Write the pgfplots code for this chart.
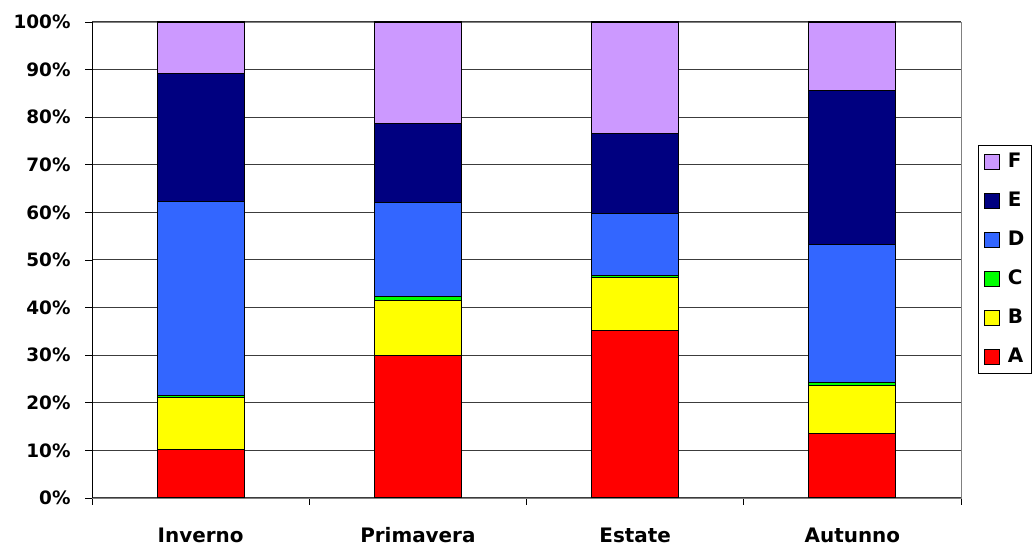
\documentclass[border=0pt]{standalone}
\usepackage{pgfplots}
\pgfplotsset{compat=1.18}
\usepackage{fontspec}
\setmainfont{DejaVu Sans}

\definecolor{cA}{RGB}{255,0,0}
\definecolor{cB}{RGB}{255,255,0}
\definecolor{cC}{RGB}{0,255,0}
\definecolor{cD}{RGB}{51,102,255}
\definecolor{cE}{RGB}{0,0,128}
\definecolor{cF}{RGB}{204,153,255}
\definecolor{gridc}{RGB}{60,60,60}

\begin{document}
\begin{tikzpicture}[x=1bp,y=1bp]
\useasboundingbox (0,0) rectangle (1035,549);
\begin{axis}[
  at={(92bp,51bp)}, anchor=south west,
  width=869bp, height=476bp, scale only axis,
  ybar stacked,
  bar width=0.4,
  xmin=-0.5, xmax=3.5,
  ymin=0, ymax=100,
  tick pos=left,
  % separators between seasons carry the tick marks
  xtick={-0.5,0.5,1.5,2.5,3.5},
  xticklabels={},
  % season names sit at the bar centres, without a mark
  extra x ticks={0,1,2,3},
  extra x tick labels={Inverno,Primavera,Estate,Autunno},
  extra x tick style={major tick length=0pt, grid=none},
  ytick={0,10,...,100},
  yticklabel={\pgfmathprintnumber{\tick}\%},
  ymajorgrids,
  major grid style={gridc, line width=1pt},
  tick align=outside,
  major tick length=7bp,
  tick style={black, line width=0.8pt},
  y tick label style={font=\bfseries\fontsize{18.5}{18.5}\selectfont, xshift=-11bp},
  x tick label style={font=\bfseries\fontsize{20}{20}\selectfont, anchor=base, yshift=-45bp},
  /pgf/number format/assume math mode=true,
  axis line style={gray, line width=0.8pt},
  reverse legend,
  legend style={
    at={(axis description cs:1.0196,0.7416)}, anchor=north west,
    draw=black, line width=0.8pt, fill=white,
    font=\bfseries\fontsize{20}{20}\selectfont,
    row sep=18bp, column sep=6bp, inner xsep=6bp, inner ysep=6bp,
    nodes={inner sep=1.5bp, text height=15bp, text depth=3bp}
  },
  legend cell align=left,
  legend image code/.code={\draw[#1, draw=black, line width=0.8pt] (0bp,-7.5bp) rectangle (15bp,7.5bp);},
  every axis plot/.append style={draw=black, line width=1.1pt},
]
\addplot[fill=cA] coordinates {(0,10.1) (1,30.0) (2,35.1) (3,13.6)};
\addplot[fill=cB] coordinates {(0,11.1) (1,11.4) (2,11.2) (3,10.0)};
\addplot[fill=cC] coordinates {(0,0.3) (1,1.0) (2,0.4) (3,0.6)};
\addplot[fill=cD] coordinates {(0,40.7) (1,19.7) (2,13.0) (3,29.1)};
\addplot[fill=cE] coordinates {(0,26.9) (1,16.5) (2,16.9) (3,32.3)};
\addplot[fill=cF] coordinates {(0,10.9) (1,21.4) (2,23.4) (3,14.4)};
\legend{A,B,C,D,E,F}
\draw[black, line width=0.8pt] (rel axis cs:0,1) -- (rel axis cs:0,0) -- (rel axis cs:1,0);
\end{axis}
\end{tikzpicture}
\end{document}
